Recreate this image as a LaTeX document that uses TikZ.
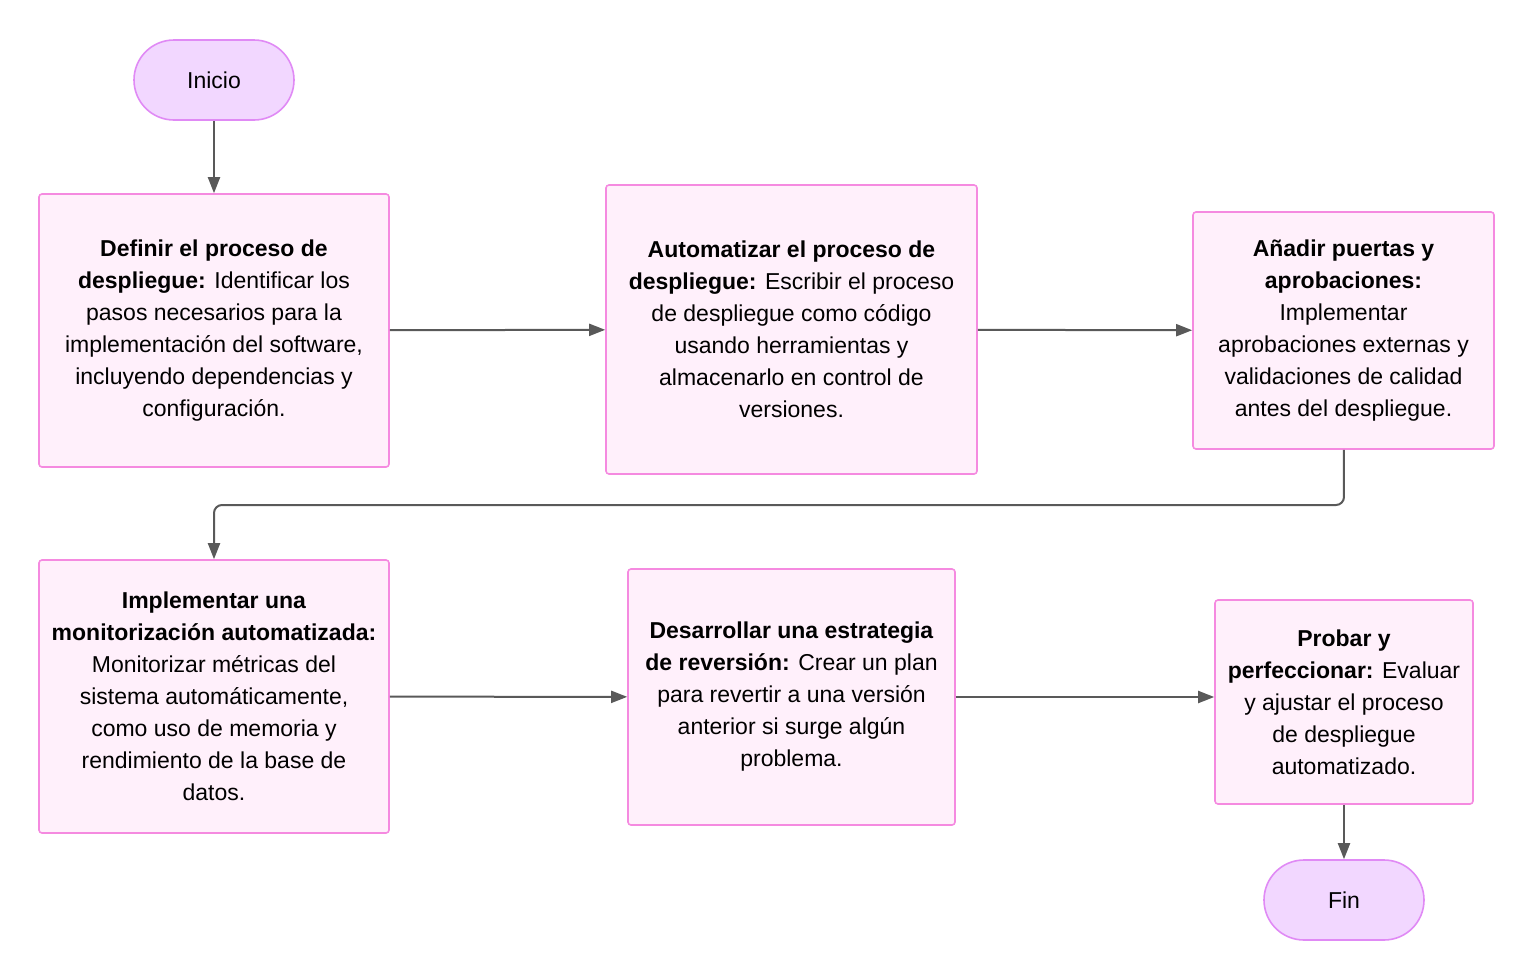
\documentclass[tikz,border=0pt]{standalone}
\usepackage{fontspec}
\setmainfont{Liberation Sans}
\usetikzlibrary{arrows.meta}
\definecolor{boxfill}{HTML}{FFF0FB}
\definecolor{boxline}{HTML}{F58AE0}
\definecolor{termfill}{HTML}{F2D7FF}
\definecolor{termline}{HTML}{E08AF5}
\definecolor{arrowgray}{HTML}{595959}
\begin{document}
\begin{tikzpicture}[x=1pt, y=-1pt, every node/.style={font=\fontsize{23}{32}\selectfont},
  b/.style={draw=boxline, fill=boxfill, line width=1.6pt, rounded corners=3pt, align=center, inner sep=0pt},
  term/.style={draw=termline, fill=termfill, line width=1.6pt, rounded corners=40pt, minimum width=160pt, minimum height=80pt, inner sep=0pt},
  flow/.style={draw=arrowgray, line width=2pt, -{Triangle[length=16pt,width=12pt]}}]
  \useasboundingbox (0,0) rectangle (1535,980);
  \node[term] (start) at (214,80) {Inicio};
  \node[b, minimum width=350pt, minimum height=273pt] (define) at (214,330.5)
    {\textbf{Definir el proceso de}\\\textbf{despliegue:} Identificar los\\pasos necesarios para la\\implementación del software,\\incluyendo dependencias y\\configuración.};
  \node[b, minimum width=371pt, minimum height=289pt] (automate) at (791.5,329.5)
    {\textbf{Automatizar el proceso de}\\\textbf{despliegue:} Escribir el proceso\\de despliegue como código\\usando herramientas y\\almacenarlo en control de\\versiones.};
  \node[b, minimum width=301pt, minimum height=237pt] (gates) at (1343.5,330.5)
    {\textbf{Añadir puertas y}\\\textbf{aprobaciones:}\\Implementar\\aprobaciones externas y\\validaciones de calidad\\antes del despliegue.};
  \node[b, minimum width=350pt, minimum height=273pt] (monitor) at (214,696.5)
    {\textbf{Implementar una}\\\textbf{monitorización automatizada:}\\Monitorizar métricas del\\sistema automáticamente,\\como uso de memoria y\\rendimiento de la base de\\datos.};
  \node[b, minimum width=327pt, minimum height=256pt] (rollback) at (791.5,697)
    {\textbf{Desarrollar una estrategia}\\\textbf{de reversión:} Crear un plan\\para revertir a una versión\\anterior si surge algún\\problema.};
  \node[b, minimum width=258pt, minimum height=204pt] (test) at (1344,702)
    {\textbf{Probar y}\\\textbf{perfeccionar:} Evaluar\\y ajustar el proceso\\de despliegue\\automatizado.};
  \node[term] (end) at (1344,900) {Fin};
  \coordinate (bendA) at (1344,505);
  \coordinate (bendB) at (214,505);
  \draw[flow] (start) -- (define);
  \draw[flow] (define) -- (automate);
  \draw[flow] (automate) -- (gates);
  \draw[flow, rounded corners=8pt] (gates) -- (bendA) -- (bendB) -- (monitor);
  \draw[flow] (monitor) -- (rollback);
  \draw[flow] (rollback) -- (rollback -| test.west);
  \draw[flow] (test) -- (end);
\end{tikzpicture}
\end{document}
